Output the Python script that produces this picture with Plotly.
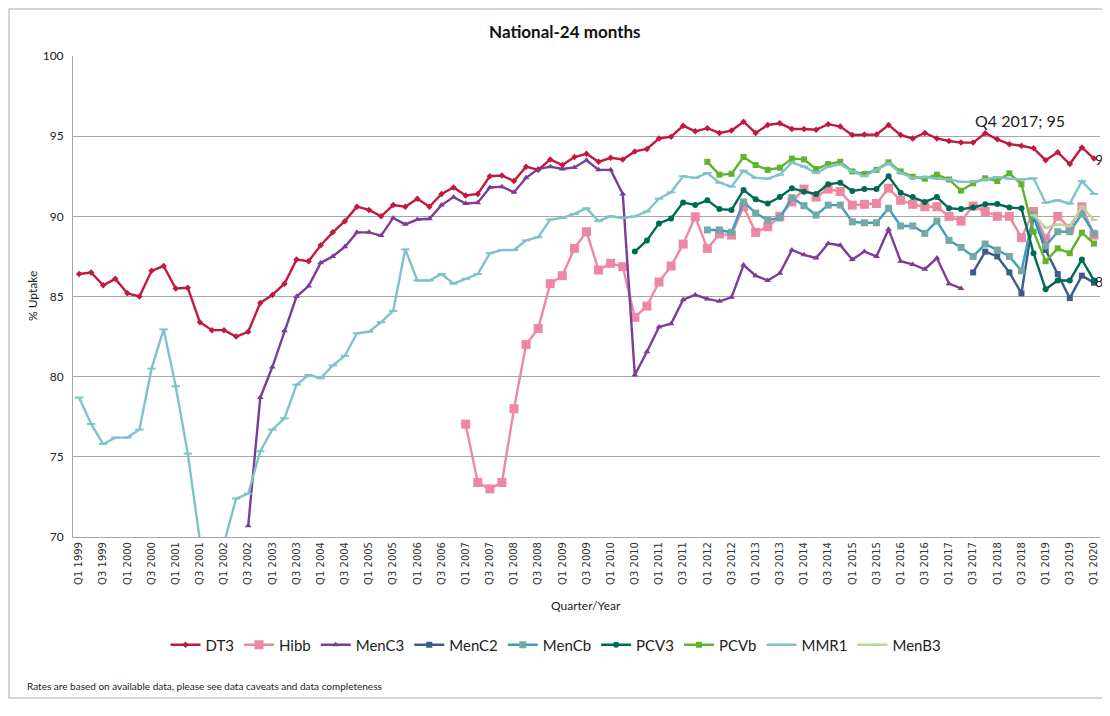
import plotly.graph_objects as go

# ---------------- data ----------------
years = list(range(1999, 2021))
quarters = [f"Q{q} {y}" for y in years for q in range(1, 5)][:85]   # Q1 1999 .. Q1 2020
tick_labels = quarters[::2]

N = None
DT3 = [86.4, 86.5, 85.7, 86.1, 85.2, 85.0, 86.6, 86.9, 85.5, 85.55,
       83.4, 82.9, 82.9, 82.5, 82.8, 84.6, 85.1, 85.8, 87.3, 87.2,
       88.2, 89.0, 89.7, 90.6, 90.4, 90.0, 90.7, 90.6, 91.1, 90.6,
       91.4, 91.8, 91.3, 91.4, 92.5, 92.55, 92.2, 93.1, 92.9, 93.55,
       93.2, 93.7, 93.9, 93.4, 93.65, 93.55, 94.05, 94.2, 94.85, 94.97,
       95.65, 95.3, 95.5, 95.2, 95.35, 95.9, 95.2, 95.7, 95.8, 95.45,
       95.45, 95.4, 95.75, 95.6, 95.07, 95.1, 95.1, 95.7, 95.07, 94.86,
       95.2, 94.86, 94.7, 94.6, 94.6, 95.18, 94.8, 94.5, 94.4, 94.24,
       93.5, 94.0, 93.26, 94.3, 93.6]

Hibb = [N] * 32 + [77.04, 73.4, 73.0, 73.4, 78.0, 82.0, 83.0, 85.8,
       86.3, 88.0, 89.04, 86.65, 87.07, 86.86, 83.7, 84.4, 85.9, 86.9,
       88.27, 89.97, 88.0, 88.9, 88.83, 90.6, 89.0, 89.35, 90.0, 90.9,
       91.7, 91.2, 91.7, 91.55, 90.7, 90.75, 90.8, 91.75, 91.0, 90.75,
       90.6, 90.6, 90.0, 89.7, 90.64, 90.3, 90.0, 90.0, 88.67, 90.3,
       88.6, 90.0, 89.25, 90.6, 88.83]

MenC3 = [N] * 14 + [70.7, 78.7, 80.6, 82.86, 85.0, 85.65,
        87.1, 87.5, 88.1, 89.0, 89.0, 88.8, 89.9, 89.5, 89.8, 89.85,
        90.7, 91.2, 90.8, 90.85, 91.8, 91.85, 91.5, 92.4, 92.95, 93.1,
        92.95, 93.05, 93.5, 92.9, 92.9, 91.4, 80.1, 81.55, 83.1, 83.3,
        84.8, 85.1, 84.85, 84.7, 84.95, 86.96, 86.3, 86.0, 86.45, 87.9,
        87.6, 87.4, 88.3, 88.2, 87.3, 87.8, 87.5, 89.2, 87.2, 87.0,
        86.7, 87.4, 85.8, 85.5] + [N] * 11

MenC2 = [N] * 74 + [86.5, 87.8, 87.5, 86.5, 85.2, 90.0,
        87.9, 86.4, 84.9, 86.3, 85.86]

MenCb = [N] * 52 + [89.15, 89.15, 89.0, 90.9, 90.2, 89.77, 89.9, 91.16,
        90.66, 90.08, 90.7, 90.7, 89.66, 89.6, 89.6, 90.5, 89.4, 89.4,
        88.94, 89.7, 88.5, 88.06, 87.5, 88.27, 87.9, 87.5, 86.6, 90.1,
        88.15, 89.04, 89.04, 90.15, 88.94]

PCV3 = [N] * 46 + [87.8, 88.5, 89.56, 89.87,
        90.87, 90.7, 91.0, 90.45, 90.4, 91.64, 91.06, 90.8, 91.2, 91.75,
        91.54, 91.4, 92.0, 92.1, 91.58, 91.7, 91.7, 92.5, 91.47, 91.2,
        90.9, 91.2, 90.5, 90.45, 90.55, 90.75, 90.77, 90.55, 90.5, 87.7,
        85.45, 86.0, 86.0, 87.3, 86.0]

PCVb = [N] * 52 + [93.4, 92.6, 92.65, 93.7, 93.2, 92.9, 93.03, 93.6,
        93.55, 92.95, 93.26, 93.4, 92.8, 92.65, 92.9, 93.37, 92.8, 92.47,
        92.35, 92.6, 92.3, 91.6, 92.06, 92.37, 92.2, 92.68, 92.0, 89.04,
        87.2, 88.0, 87.7, 88.98, 88.3]

MMR1 = [78.7, 77.05, 75.8, 76.2, 76.2, 76.7, 80.5, 82.95, 79.4, 75.2,
        69.8, 69.2, 69.6, 72.4, 72.7, 75.35, 76.7, 77.4, 79.5, 80.1,
        79.9, 80.7, 81.3, 82.7, 82.8, 83.4, 84.1, 87.94, 86.0, 86.0,
        86.4, 85.8, 86.1, 86.4, 87.7, 87.9, 87.9, 88.5, 88.7, 89.8,
        89.9, 90.15, 90.5, 89.7, 90.0, 89.9, 90.0, 90.3, 91.1, 91.5,
        92.5, 92.4, 92.7, 92.1, 91.85, 92.85, 92.4, 92.35, 92.6, 93.35,
        93.1, 92.7, 93.1, 93.25, 92.8, 92.5, 92.9, 93.3, 92.7, 92.4,
        92.45, 92.35, 92.3, 92.15, 92.15, 92.3, 92.45, 92.35, 92.3, 92.37,
        90.85, 91.0, 90.8, 92.2, 91.4]

MenB3 = [N] * 79 + [90.08, 89.3, 89.5, 89.4, 90.6, 89.77]

# ---------------- figure ----------------
WIN_W, WIN_H = 1110, 716
OFF = 8                           # page body margin of the browser
L, R, T, B = 73, 1100, 56, 537    # plot area in window px
FIG_W, FIG_H = WIN_W - OFF, WIN_H - 2 * OFF   # avoid vertical page overflow

def px(x):
    return (x - L) / (R - L)

def py(y):
    return (B - y) / (B - T)

FONT = "Lato, Carlito, Calibri, sans-serif"

fig = go.Figure()

def add(name, vals, color, symbol, size, width=2.4, mcolor=None, mline=None):
    marker = dict(symbol=symbol, size=size, color=mcolor or color)
    marker["line"] = mline if mline is not None else dict(width=0)
    fig.add_trace(go.Scatter(
        x=quarters, y=vals, name=name, mode="lines+markers",
        line=dict(color=color, width=width),
        marker=marker, cliponaxis=True))

add("DT3", DT3, "#C2193F", "diamond", 5)
add("Hibb", Hibb, "#EE87A2", "square", 9)
add("MenC3", MenC3, "#7D3C98", "triangle-up", 6)
add("MenC2", MenC2, "#3E5B8C", "square", 6)
add("MenCb", MenCb, "#3D9DC0", "square", 7, mcolor="#72A9A2")
add("PCV3", PCV3, "#006B52", "circle", 6)
add("PCVb", PCVb, "#63B22E", "square", 6)
add("MMR1", MMR1, "#7EC3C9", "line-ew", 6,
    mline=dict(width=2, color="#7EC3C9"))
add("MenB3", MenB3, "#BCD3A2", "line-ew", 5,
    mline=dict(width=2, color="#BCD3A2"))

grid = "#A6A6A6"
fig.update_layout(
    width=FIG_W, height=FIG_H,
    margin=dict(l=L - OFF, r=OFF + FIG_W - R, t=T - OFF, b=OFF + FIG_H - B),
    paper_bgcolor="white", plot_bgcolor="white",
    font=dict(family=FONT, color="#222222"),
    showlegend=True,
    legend=dict(orientation="h", x=px(556), xanchor="center",
                y=py(645), yanchor="middle",
                font=dict(family=FONT, size=15, color="#222222"),
                itemwidth=30, tracegroupgap=0),
    xaxis=dict(type="category", categoryorder="array", categoryarray=quarters,
               range=[-0.5, len(quarters) - 0.5],
               tickmode="array", tickvals=tick_labels, ticktext=tick_labels,
               tickangle=-90, tickfont=dict(family="DejaVu Sans", size=10, color="#333333"),
               showgrid=False, showline=True, linecolor=grid, linewidth=1,
               ticks="", zeroline=False),
    yaxis=dict(range=[70, 100], dtick=5, tick0=70,
               showgrid=True, gridcolor=grid, gridwidth=1,
               showline=True, linecolor=grid, linewidth=1,
               ticks="", zeroline=False, ticklabelstandoff=6,
               tickfont=dict(family=FONT, size=12, color="#222222")),
)

anns = [
    dict(text="<b>National-24 months</b>", x=px(565), y=py(31), xref="paper", yref="paper",
         showarrow=False, font=dict(family=FONT, size=17, color="#111111"),
         xanchor="center", yanchor="middle"),
    dict(text="Quarter/Year", x=px(586), y=py(605), xref="paper", yref="paper",
         showarrow=False, font=dict(family=FONT, size=12, color="#222222"),
         xanchor="center", yanchor="middle"),
    dict(text="% Uptake", x=px(32), y=py(296), xref="paper", yref="paper",
         showarrow=False, textangle=-90, font=dict(family=FONT, size=12, color="#222222"),
         xanchor="center", yanchor="middle"),
    dict(text="Rates are based on available data, please see data caveats and data completeness",
         x=px(25), y=py(686), xref="paper", yref="paper", showarrow=False,
         font=dict(family=FONT, size=10, color="#222222"),
         xanchor="left", yanchor="middle"),
    dict(text="Q4 2017; 95", x="Q4 2017", y=DT3[75], xref="x", yref="y",
         showarrow=False, xshift=35, yshift=13,
         font=dict(family=FONT, size=16, color="#222222"),
         xanchor="center", yanchor="middle"),
    dict(text="94", x=quarters[-1], y=DT3[-1], xref="x", yref="y",
         showarrow=False, xshift=-1, yshift=-1,
         font=dict(family=FONT, size=14, color="#222222"),
         xanchor="left", yanchor="middle"),
    dict(text="86", x=quarters[-1], y=PCV3[-1], xref="x", yref="y",
         showarrow=False, xshift=-1, yshift=-1,
         font=dict(family=FONT, size=14, color="#222222"),
         xanchor="left", yanchor="middle"),
]
fig.update_layout(annotations=anns)

# outer chart border
fig.add_shape(type="rect", xref="paper", yref="paper",
              x0=px(9), x1=px(1125), y0=py(698), y1=py(9),
              line=dict(color="#C8C8C8", width=1.5), fillcolor="rgba(0,0,0,0)",
              layer="below")

fig.write_html("out.html")
